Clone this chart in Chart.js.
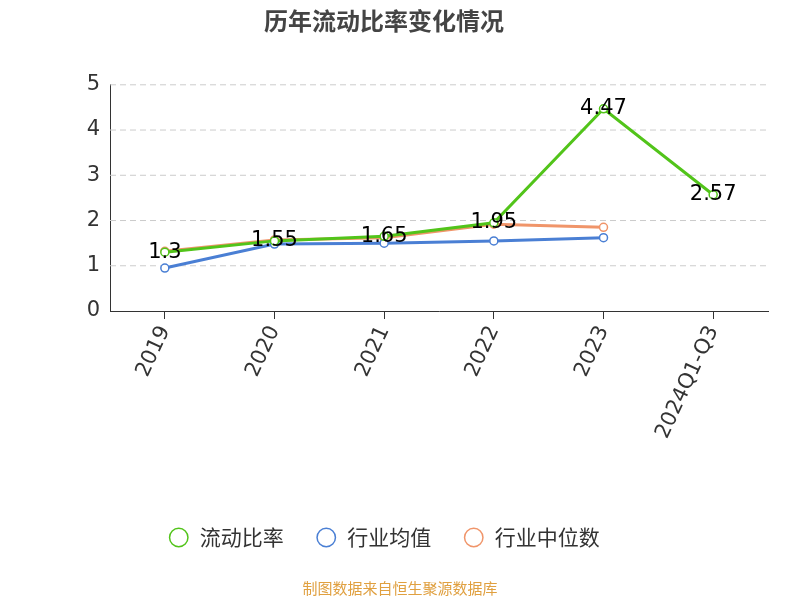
<!DOCTYPE html>
<html><head><meta charset="utf-8">
<script src="https://cdn.jsdelivr.net/npm/chart.js@4"></script>
<style>body{margin:0;background:#fff}#w{width:800px;height:600px;position:relative}
#src{position:absolute;left:0;width:800px;top:577px;text-align:center;color:#e0a040;font:15px "Noto Sans CJK SC";}</style>
</head><body><div id="w"><canvas id="c" width="800" height="600"></canvas><div id="src">制图数据来自恒生聚源数据库</div></div>
<script>
const categories=["2019","2020","2021","2022","2023","2024Q1-Q3"];
const ratio=[1.3,1.55,1.65,1.95,4.47,2.57];
const industryMean=[0.95,1.48,1.5,1.55,1.62,null];
const industryMedian=[1.32,1.57,1.62,1.92,1.85,null];
const yTicks=[0,1,2,3,4,5];
const labelPlugin={id:'lbl',afterDatasetsDraw(ch){const m=ch.getDatasetMeta(0),x=ch.ctx;x.save();x.font='21px "DejaVu Sans"';x.fillStyle='#000';x.textAlign='center';x.textBaseline='middle';
m.data.forEach((p,i)=>{x.fillText(String(ratio[i]),p.x,p.y);});x.restore();}};
new Chart(document.getElementById('c'),{type:'line',data:{labels:categories,datasets:[
{label:'流动比率',data:ratio,borderColor:'#52c41a',backgroundColor:'#fff',borderWidth:3,pointRadius:4,pointBorderWidth:1.5},
{label:'行业均值',data:industryMean,borderColor:'#4a7fd4',backgroundColor:'#fff',borderWidth:3,pointRadius:4,pointBorderWidth:1.5},
{label:'行业中位数',data:industryMedian,borderColor:'#f0956a',backgroundColor:'#fff',borderWidth:3,pointRadius:4,pointBorderWidth:1.5}]},
options:{responsive:false,animation:false,layout:{padding:{left:0,right:32,top:0,bottom:42}},
plugins:{title:{display:true,text:'历年流动比率变化情况',font:{size:24,weight:'bold',family:'Noto Sans CJK SC'},color:'#444',padding:{top:6,bottom:50}},
legend:{position:'bottom',labels:{usePointStyle:true,pointStyle:'circle',font:{size:21,family:'Noto Sans CJK SC'},color:'#333',padding:32,boxHeight:13}},tooltip:{enabled:false}},
scales:{x:{offset:true,afterFit(s){s.height=184;},grid:{display:true,drawOnChartArea:false,tickLength:8,color:'#333'},border:{color:'#333'},ticks:{maxRotation:65,minRotation:65,font:{size:21,family:'DejaVu Sans'},color:'#333'}},
y:{min:0,max:5,afterFit(s){s.width=110;},afterBuildTicks(a){a.ticks=yTicks.map(v=>({value:v}));},grid:{color:'#ccc',tickLength:0,drawTicks:false},border:{display:true,color:'#333',dash:[]},
ticks:{font:{size:21,family:'DejaVu Sans'},color:'#333',padding:10}}}},
plugins:[labelPlugin,{id:'dash',beforeDatasetsDraw(ch){const {ctx,chartArea:a,scales:{y}}=ch;ctx.save();ctx.fillStyle='#fff';ctx.fillRect(a.left+1,a.top-2,a.right-a.left,a.bottom-a.top);ctx.strokeStyle='#ccc';ctx.setLineDash([6,4]);yTicks.slice(1).forEach(v=>{const py=y.getPixelForValue(v);ctx.beginPath();ctx.moveTo(a.left,py);ctx.lineTo(a.right,py);ctx.stroke();});ctx.restore();}}]});
</script></body></html>
